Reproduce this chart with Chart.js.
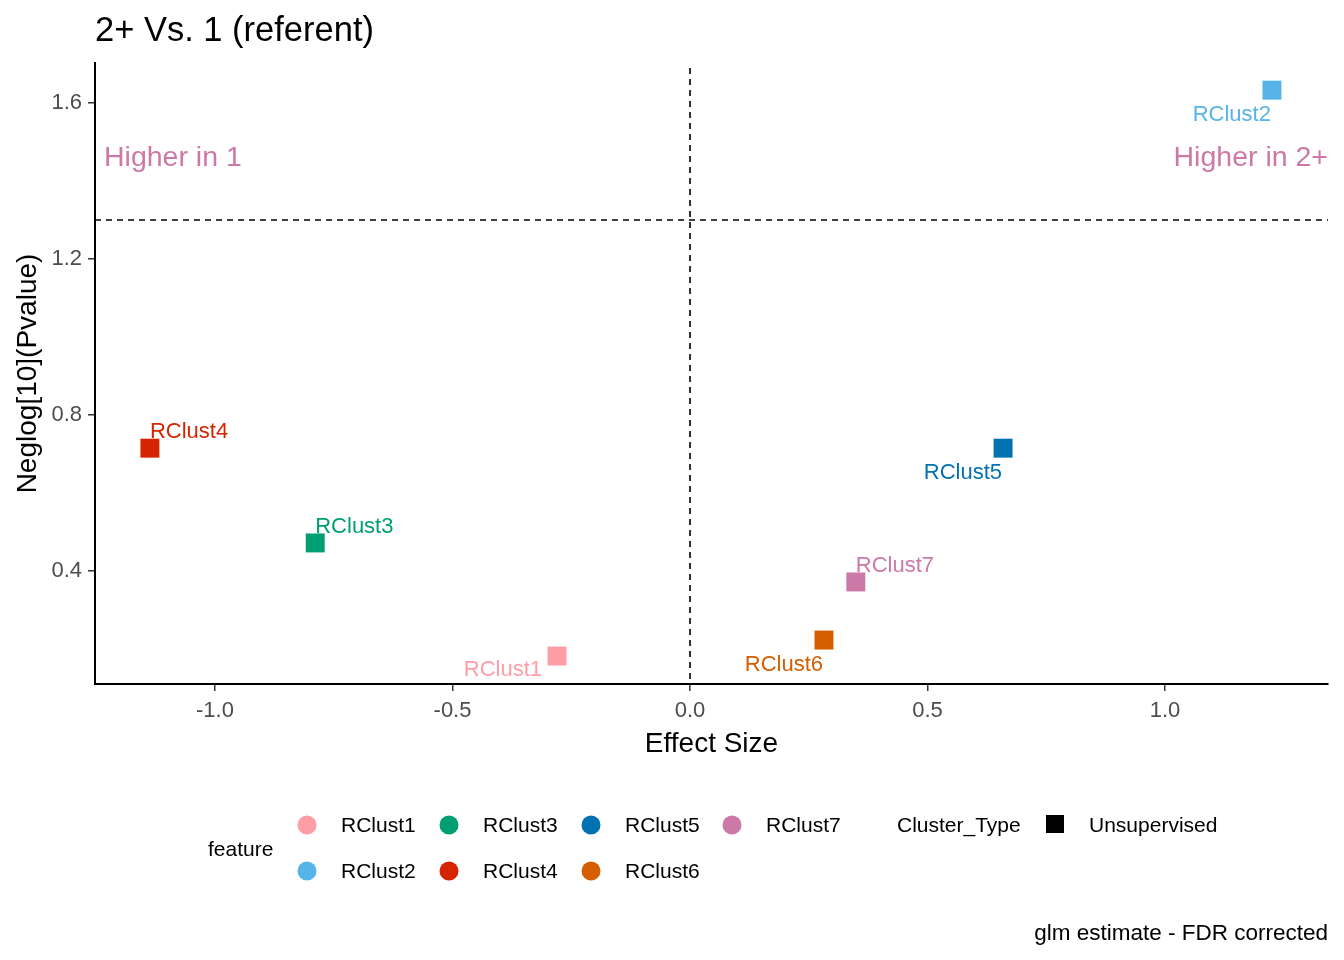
<!DOCTYPE html>
<html>
<head>
<meta charset="utf-8">
<script src="https://cdn.jsdelivr.net/npm/chart.js@4"></script>
<style>
  html, body { margin: 0; padding: 0; background: #fff; }
  #wrap { width: 1344px; height: 960px; }
</style>
</head>
<body>
<div id="wrap"><canvas id="chart" width="1344" height="960"></canvas></div>
<script>
// data
const features = ['RClust1', 'RClust2', 'RClust3', 'RClust4', 'RClust5', 'RClust6', 'RClust7'];
const effectSize = [-0.28, 1.225, -0.789, -1.137, 0.659, 0.282, 0.349];
const negLogP = [0.182, 1.633, 0.472, 0.715, 0.715, 0.223, 0.372];
const featureColors = ['#FF9DA7', '#56B4E9', '#009E73', '#D62300', '#0072B2', '#D55E00', '#CC79A7'];
const xTicks = [-1.0, -0.5, 0.0, 0.5, 1.0];
const yTicks = [0.4, 0.8, 1.2, 1.6];
const pThreshold = 1.3;

// label placement next to each point (ggrepel-like), in pixels
const labelOffsets = [
    { dx: -15, dy: 14, align: 'right' },
    { dx: -1, dy: 25, align: 'right' },
    { dx: 0, dy: -16, align: 'left' },
    { dx: 0, dy: -16, align: 'left' },
    { dx: -1, dy: 25, align: 'right' },
    { dx: -1, dy: 25, align: 'right' },
    { dx: 0, dy: -16, align: 'left' }
];

const FONT = '"Liberation Sans", Arial, sans-serif';
Chart.defaults.font.family = FONT;

const overlay = {
    id: 'overlay',
    beforeDatasetsDraw(chart) {
        const { ctx, chartArea, scales } = chart;
        const yLine = scales.y.getPixelForValue(pThreshold);
        const xLine = scales.x.getPixelForValue(0);
        ctx.save();
        ctx.strokeStyle = '#000';
        ctx.lineWidth = 1.6;
        ctx.setLineDash([6, 5]);
        ctx.beginPath();
        ctx.moveTo(chartArea.left, yLine);
        ctx.lineTo(chartArea.right, yLine);
        ctx.moveTo(xLine, chartArea.top + 5);
        ctx.lineTo(xLine, chartArea.bottom);
        ctx.stroke();
        ctx.restore();
    },
    afterDatasetsDraw(chart) {
        const { ctx, chartArea, scales } = chart;
        ctx.save();
        // point labels
        ctx.font = '22px ' + FONT;
        ctx.textBaseline = 'middle';
        features.forEach((name, i) => {
            const px = scales.x.getPixelForValue(effectSize[i]);
            const py = scales.y.getPixelForValue(negLogP[i]);
            const o = labelOffsets[i];
            ctx.fillStyle = featureColors[i];
            ctx.textAlign = o.align;
            ctx.fillText(name, px + o.dx, py + o.dy);
        });

        // direction annotations
        const yHi = scales.y.getPixelForValue(1.464) + 2;
        ctx.font = '28.5px ' + FONT;
        ctx.fillStyle = '#CC79A7';
        ctx.textAlign = 'left';
        ctx.fillText('Higher in 1', chartArea.left + 9, yHi);
        ctx.textAlign = 'right';
        ctx.fillText('Higher in 2+', chartArea.right, yHi);

        // title
        ctx.fillStyle = '#000';
        ctx.font = '34.5px ' + FONT;
        ctx.textAlign = 'left';
        ctx.fillText('2+ Vs. 1 (referent)', chartArea.left, 31);

        // legend: feature
        ctx.font = '21px ' + FONT;
        ctx.fillText('feature', 208, 850);
        const colX = [307, 449, 591, 732];
        const rowY = [825, 871];
        features.forEach((name, i) => {
            const cx = colX[Math.floor(i / 2)];
            const cy = rowY[i % 2];
            ctx.fillStyle = featureColors[i];
            ctx.beginPath();
            ctx.arc(cx, cy, 9.5, 0, Math.PI * 2);
            ctx.fill();
            ctx.fillStyle = '#000';
            ctx.fillText(name, cx + 34, cy + 1);
        });

        // legend: Cluster_Type
        ctx.fillText('Cluster_Type', 897, 826);
        ctx.fillRect(1046, 815, 18, 18);
        ctx.fillText('Unsupervised', 1089, 826);

        // caption
        ctx.font = '22.5px ' + FONT;
        ctx.textAlign = 'right';
        ctx.fillText('glm estimate - FDR corrected', chartArea.right, 934);
        ctx.restore();
    }
};

const axisGrid = {
    drawOnChartArea: false,
    drawTicks: true,
    tickLength: 7,
    color: '#333',
    lineWidth: 1.5
};

new Chart(document.getElementById('chart'), {
    type: 'scatter',
    data: {
        datasets: [{
            label: 'features',
            data: features.map((f, i) => ({ x: effectSize[i], y: negLogP[i] })),
            backgroundColor: featureColors,
            borderWidth: 0,
            pointStyle: 'rect',
            pointRadius: 13.4,
            pointHoverRadius: 13.4
        }]
    },
    options: {
        responsive: false,
        animation: false,
        events: [],
        layout: { padding: { top: 63, right: 16, bottom: 186, left: 0 } },
        plugins: {
            legend: { display: false },
            tooltip: { enabled: false },
            title: { display: false }
        },
        scales: {
            x: {
                type: 'linear',
                min: -1.2526,
                max: 1.343,
                afterBuildTicks: (scale) => { scale.ticks = xTicks.map(v => ({ value: v })); },
                afterFit: (scale) => { scale.height = 90; },
                grid: axisGrid,
                border: { display: true, color: '#000', width: 2 },
                ticks: {
                    color: '#4D4D4D',
                    font: { size: 22 },
                    padding: 7,
                    maxRotation: 0,
                    callback: (v) => v.toFixed(1)
                },
                title: {
                    display: true,
                    text: 'Effect Size',
                    color: '#000',
                    font: { size: 28, lineHeight: 1.2 },
                    padding: { top: 0, bottom: 13 }
                }
            },
            y: {
                type: 'linear',
                min: 0.1103,
                max: 1.7026,
                afterBuildTicks: (scale) => { scale.ticks = yTicks.map(v => ({ value: v })); },
                afterFit: (scale) => { scale.width = 95; },
                grid: axisGrid,
                border: { display: true, color: '#000', width: 2 },
                ticks: {
                    color: '#4D4D4D',
                    font: { size: 22 },
                    padding: 6,
                    callback: (v) => v.toFixed(1)
                },
                title: {
                    display: true,
                    text: 'Neglog[10](Pvalue)',
                    color: '#000',
                    font: { size: 28, lineHeight: 1.2 },
                    padding: { top: 11, bottom: 0 }
                }
            }
        }
    },
    plugins: [overlay]
});
</script>
</body>
</html>
